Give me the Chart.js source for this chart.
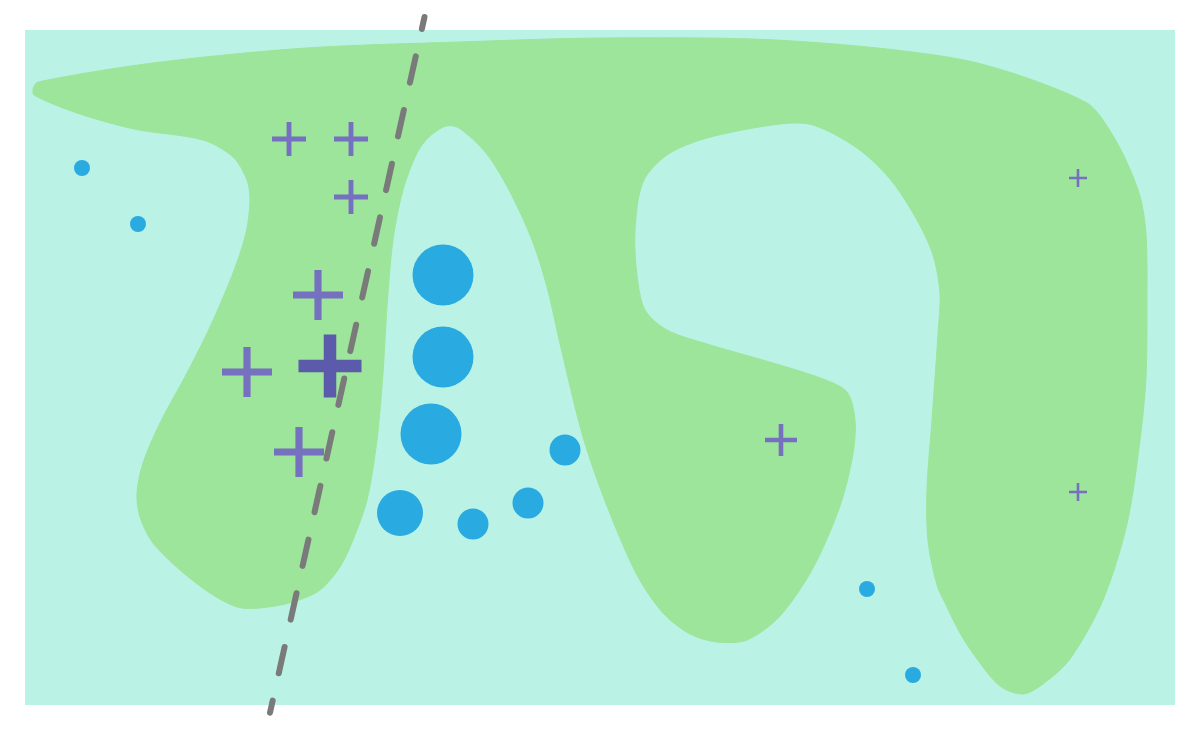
<!DOCTYPE html>
<html>
<head>
<meta charset="utf-8">
<script src="https://cdn.jsdelivr.net/npm/chart.js@4.4.1/dist/chart.umd.min.js"></script>
<style>
  html, body { margin: 0; padding: 0; background: #fff; }
  canvas { display: block; }
</style>
</head>
<body>
<canvas id="decisionChart" width="1200" height="730" style="width:1200px;height:730px"></canvas>
<script>
// outline of the green (positive) decision region, walked clockwise from the left tip
const regionX = [0.08, 0.13, 1.28, 2.81, 4.34, 5.75, 7.28, 8.43, 9.39, 10.02, 10.62, 10.78, 10.98, 11.15, 11.21,
  11.22, 11.21, 11.15, 11.02, 10.78, 10.45, 10.18, 9.98, 9.75, 9.52, 9.35, 9.21, 9.12, 9.03, 9.02, 9.07, 9.13, 9.15,
  9.08, 8.92, 8.65, 8.32, 7.88, 7.55, 6.82, 6.42, 6.18, 6.10, 6.12, 6.20, 6.42, 6.82, 7.48, 7.98, 8.22, 8.30, 8.28,
  8.15, 7.88, 7.55, 7.22, 6.92, 6.65, 6.38, 6.12, 5.82, 5.58, 5.36, 5.22, 5.07, 4.84, 4.61, 4.34, 4.21, 4.04, 3.92,
  3.78, 3.68, 3.62, 3.58, 3.52, 3.42, 3.28, 3.15, 2.95, 2.68, 2.35, 2.12, 1.85, 1.55, 1.28, 1.15, 1.12, 1.18, 1.35,
  1.62, 1.85, 2.08, 2.21, 2.25, 2.22, 2.08, 1.78, 1.09, 0.52, 0.09, 0.08];
const regionY = [6.17, 6.23, 6.42, 6.57, 6.63, 6.67, 6.66, 6.58, 6.45, 6.27, 6.02, 5.85, 5.51, 5.09, 4.71,
  4.13, 3.28, 2.65, 1.81, 1.05, 0.46, 0.21, 0.11, 0.19, 0.46, 0.72, 1.00, 1.20, 1.64, 2.16, 2.85, 3.71, 4.12,
  4.50, 4.85, 5.26, 5.57, 5.80, 5.81, 5.67, 5.50, 5.23, 4.74, 4.30, 3.95, 3.75, 3.61, 3.42, 3.26, 3.13, 2.85, 2.51,
  1.99, 1.37, 0.89, 0.65, 0.63, 0.71, 0.92, 1.30, 1.99, 2.68, 3.57, 4.18, 4.65, 5.15, 5.52, 5.77, 5.79, 5.68, 5.52,
  5.15, 4.65, 3.98, 3.32, 2.65, 2.05, 1.65, 1.38, 1.15, 1.03, 0.97, 0.98, 1.12, 1.35, 1.62, 1.88, 2.12, 2.42, 2.82,
  3.32, 3.78, 4.32, 4.72, 5.05, 5.25, 5.48, 5.65, 5.76, 5.92, 6.10, 6.17];

// class A samples (circles), size = marker diameter
const circleX = [0.57, 1.13, 4.18, 4.18, 4.06, 5.40, 3.75, 4.48, 5.03, 8.42, 8.88];
const circleY = [5.37, 4.81, 4.30, 3.48, 2.71, 2.55, 1.92, 1.81, 2.02, 1.16, 0.30];
const circleSize = [16, 16, 61, 61, 61, 31, 46, 31, 31, 16, 16];

// class B samples (crosses), size = arm span
const crossX = [10.53, 2.64, 3.26, 3.26, 2.93, 2.22, 2.74, 7.56, 10.53];
const crossY = [5.27, 5.66, 5.66, 5.08, 4.10, 3.33, 2.53, 2.65, 2.13];
const crossSize = [18, 34, 34, 34, 50, 50, 50, 32, 18];

// highlighted sample
const focusX = [3.05];
const focusY = [3.39];
const focusSize = [63];

// linear boundary (dashed)
const boundaryX = [3.995, 2.45];
const boundaryY = [6.88, -0.077];

const toPoints = (xs, ys) => xs.map((x, i) => ({ x: x, y: ys[i] }));

// crosses + highlighted one in a single dataset; the big one sits away from the
// ends so the layout does not reserve room for it
const crossPts = toPoints(crossX, crossY);
const crossRad = crossSize.map(s => s / 2);
const crossLw = crossSize.map(s => s / 7);
const crossCol = crossSize.map(() => 'rgb(117,112,192)');
focusX.forEach((x, i) => {
  crossPts.splice(1, 0, { x: x, y: focusY[i] });
  crossRad.splice(1, 0, focusSize[i] / 2);
  crossLw.splice(1, 0, 12.5);
  crossCol.splice(1, 0, 'rgb(91,90,171)');
});

// paint the plot background
const plotBackground = {
  id: 'plotBackground',
  beforeDraw(chart) {
    const { ctx, chartArea } = chart;
    ctx.save();
    ctx.fillStyle = '#ffffff';
    ctx.fillRect(0, 0, chart.width, chart.height);
    ctx.fillStyle = 'rgb(186,243,230)';
    ctx.fillRect(chartArea.left, chartArea.top, chartArea.right - chartArea.left, chartArea.bottom - chartArea.top);
    ctx.restore();
  }
};

new Chart(document.getElementById('decisionChart'), {
  type: 'scatter',
  data: {
    datasets: [{
      type: 'line',
      label: 'boundary',
      data: toPoints(boundaryX, boundaryY),
      borderColor: 'rgb(122,122,122)',
      borderWidth: 6,
      borderDash: [27, 28],
      borderDashOffset: 14.7,
      borderCapStyle: 'round',
      pointRadius: 0,
      fill: false,
      clip: false,
      order: 0
    }, {
      type: 'line',
      showLine: false,
      label: 'class B',
      data: crossPts,
      pointStyle: 'cross',
      pointRadius: crossRad,
      pointBorderWidth: crossLw,
      pointBorderColor: crossCol,
      order: 2
    }, {
      type: 'line',
      showLine: false,
      label: 'class A',
      data: toPoints(circleX, circleY),
      pointRadius: circleSize.map(s => s / 2),
      pointBackgroundColor: 'rgb(41,170,225)',
      pointBorderWidth: 0,
      order: 3
    }, {
      type: 'line',
      label: 'region',
      data: toPoints(regionX, regionY),
      backgroundColor: 'rgb(157,229,155)',
      borderColor: 'rgb(157,229,155)',
      borderWidth: 1,
      tension: 0.3,
      pointRadius: 0,
      fill: 'shape',
      order: 4
    }]
  },
  options: {
    responsive: false,
    animation: false,
    devicePixelRatio: 1,
    events: [],
    layout: { padding: { left: 25, right: 25, top: 30, bottom: 25 } },
    scales: {
      x: { type: 'linear', min: 0, max: 11.5, display: false },
      y: { type: 'linear', min: 0, max: 6.75, display: false }
    },
    plugins: {
      legend: { display: false },
      tooltip: { enabled: false }
    }
  },
  plugins: [plotBackground]
});
</script>
</body>
</html>
